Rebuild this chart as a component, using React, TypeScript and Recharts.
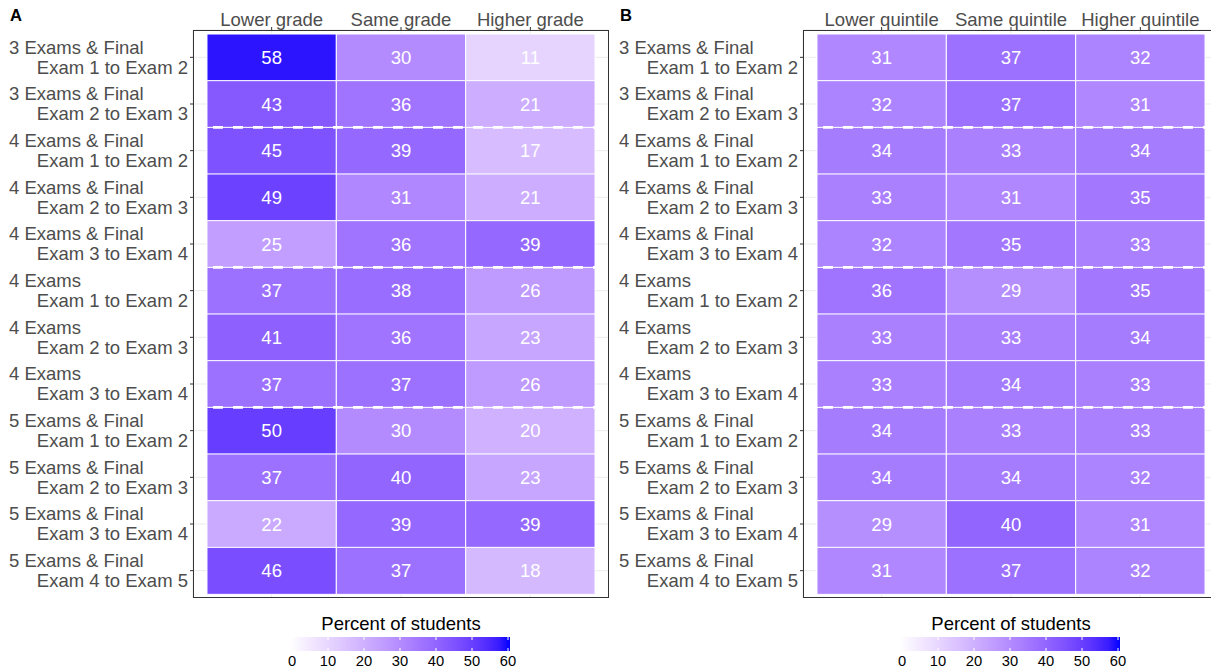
import React from 'react'
import {
  BarChart,
  Bar,
  XAxis,
  YAxis,
  CartesianGrid,
  Cell,
  LabelList,
} from 'recharts'

const rowLabels = [
  ['3 Exams & Final', 'Exam 1 to Exam 2'],
  ['3 Exams & Final', 'Exam 2 to Exam 3'],
  ['4 Exams & Final', 'Exam 1 to Exam 2'],
  ['4 Exams & Final', 'Exam 2 to Exam 3'],
  ['4 Exams & Final', 'Exam 3 to Exam 4'],
  ['4 Exams', 'Exam 1 to Exam 2'],
  ['4 Exams', 'Exam 2 to Exam 3'],
  ['4 Exams', 'Exam 3 to Exam 4'],
  ['5 Exams & Final', 'Exam 1 to Exam 2'],
  ['5 Exams & Final', 'Exam 2 to Exam 3'],
  ['5 Exams & Final', 'Exam 3 to Exam 4'],
  ['5 Exams & Final', 'Exam 4 to Exam 5'],
]

const gradeColumns = ['Lower grade', 'Same grade', 'Higher grade']
const quintileColumns = ['Lower quintile', 'Same quintile', 'Higher quintile']

// panel A: grade change
const lowerGrade = [58, 43, 45, 49, 25, 37, 41, 37, 50, 37, 22, 46]
const sameGrade = [30, 36, 39, 31, 36, 38, 36, 37, 30, 40, 39, 37]
const higherGrade = [11, 21, 17, 21, 39, 26, 23, 26, 20, 23, 39, 18]

// panel B: quintile change
const lowerQuintile = [31, 32, 34, 33, 32, 36, 33, 33, 34, 34, 29, 31]
const sameQuintile = [37, 37, 33, 31, 35, 29, 33, 34, 33, 34, 40, 37]
const higherQuintile = [32, 31, 34, 35, 33, 35, 34, 33, 33, 32, 31, 32]

// dashed separator drawn on top of these rows
const dividerRows = [2, 5, 8]
const legendTicks = [0, 10, 20, 30, 40, 50, 60]
const colorLimits = [0, 60]

const FONT = '"Liberation Sans", Arial, Helvetica, sans-serif'
const AXIS_TEXT = '#4d4d4d'

// white -> blue ramp interpolated in CIELAB (like ggplot's scale_fill_gradient)
const lin = (c: number) => (c <= 0.04045 ? c / 12.92 : Math.pow((c + 0.055) / 1.055, 2.4))
const gam = (c: number) => (c <= 0.0031308 ? 12.92 * c : 1.055 * Math.pow(c, 1 / 2.4) - 0.055)
const WP = [0.95047, 1, 1.08883]

function toLab(rgb: number[]) {
  const [r, g, b] = rgb.map((v) => lin(v / 255))
  const X = 0.4124 * r + 0.3576 * g + 0.1805 * b
  const Y = 0.2126 * r + 0.7152 * g + 0.0722 * b
  const Z = 0.0193 * r + 0.1192 * g + 0.9505 * b
  const f = (t: number) => (t > 0.008856 ? Math.cbrt(t) : 7.787 * t + 16 / 116)
  const fx = f(X / WP[0])
  const fy = f(Y / WP[1])
  const fz = f(Z / WP[2])
  return [116 * fy - 16, 500 * (fx - fy), 200 * (fy - fz)]
}

function fromLab([L, a, bb]: number[]) {
  const fy = (L + 16) / 116
  const fx = fy + a / 500
  const fz = fy - bb / 200
  const inv = (t: number) => (t ** 3 > 0.008856 ? t ** 3 : (t - 16 / 116) / 7.787)
  const X = inv(fx) * WP[0]
  const Y = inv(fy) * WP[1]
  const Z = inv(fz) * WP[2]
  const r = 3.2406 * X - 1.5372 * Y - 0.4986 * Z
  const g = -0.9689 * X + 1.8758 * Y + 0.0415 * Z
  const b = 0.0557 * X - 0.204 * Y + 1.057 * Z
  const to = (c: number) => Math.round(Math.min(1, Math.max(0, gam(Math.min(1, Math.max(0, c))))) * 255)
  return `rgb(${to(r)},${to(g)},${to(b)})`
}

const LOW = toLab([255, 255, 255])
const HIGH = toLab([0, 0, 255])

function fillFor(v: number) {
  const t = (v - colorLimits[0]) / (colorLimits[1] - colorLimits[0])
  return fromLab(LOW.map((l, i) => l + (HIGH[i] - l) * t))
}

const RowTick = (props: any) => {
  const { x, y, payload } = props
  const [first, second] = rowLabels[Number(String(payload.value).slice(1))]
  return (
    <g>
      <text x={x - 179} y={y - 10} dy="0.35em" textAnchor="start" fill={AXIS_TEXT} fontSize={18.5}>
        {first}
      </text>
      <text x={x} y={y + 10} dy="0.35em" textAnchor="end" fill={AXIS_TEXT} fontSize={18.5}>
        {second}
      </text>
    </g>
  )
}

// tile; the last column also draws the dashed group separator across the row
const makeTile = (isLast: boolean, nCols: number) => (p: any) => {
  const { x, y, width, height, fill, index } = p
  return (
    <g>
      <rect x={x} y={y} width={width} height={height} fill={fill} stroke="#fff" strokeWidth={1} />
      {isLast && dividerRows.includes(index) && (
        <line
          x1={x - (nCols - 1) * width + 6}
          x2={x + width}
          y1={y}
          y2={y}
          stroke="#fff"
          strokeWidth={2.7}
          strokeDasharray="10 10"
        />
      )}
    </g>
  )
}

function Panel({ columns, series, left }: { columns: string[]; series: number[][]; left: number }) {
  const data = rowLabels.map((_, i) => ({
    id: `r${i}`,
    c0: 1,
    c1: 1,
    c2: 1,
    v0: series[0][i],
    v1: series[1][i],
    v2: series[2][i],
  }))

  return (
    <div style={{ position: 'absolute', left, top: 0 }}>
      <BarChart
        layout="vertical"
        width={609}
        height={598}
        data={data}
        margin={{ top: 0, right: 0, bottom: 0, left: 0 }}
        barCategoryGap={0}
      >
        <CartesianGrid xAxisId="x" yAxisId="cat" stroke="#ebebeb" />
        <XAxis
          xAxisId="x"
          type="number"
          orientation="top"
          domain={[-0.108, 3.108]}
          allowDataOverflow
          ticks={[0.5, 1.5, 2.5]}
          interval={0}
          tickFormatter={(v: number) => columns[Math.floor(v)]}
          height={30}
          axisLine={false}
          tickSize={3}
          tickMargin={1}
          tickLine={{ stroke: '#333' }}
          tick={{ fill: AXIS_TEXT, fontSize: 18.5 }}
        />
        <YAxis
          yAxisId="cat"
          type="category"
          dataKey="id"
          width={193}
          padding={{ top: 4, bottom: 4 }}
          interval={0}
          axisLine={false}
          tickSize={3}
          tickMargin={2}
          tickLine={{ stroke: '#333' }}
          tick={<RowTick />}
        />
        {[0, 1, 2].map((k) => (
          <Bar
            key={k}
            xAxisId="x"
            yAxisId="cat"
            dataKey={`c${k}`}
            stackId="tiles"
            shape={makeTile(k === 2, 3)}
            isAnimationActive={false}
          >
            {series[k].map((v, i) => (
              <Cell key={`cell-${k}-${i}`} fill={fillFor(v)} />
            ))}
            <LabelList dataKey={`v${k}`} position="center" fill="#fff" fontSize={18.5} />
          </Bar>
        ))}
      </BarChart>
      <div
        style={{
          position: 'absolute',
          left: 193,
          top: 30,
          width: 416,
          height: 568,
          border: '1px solid #333',
          boxSizing: 'border-box',
          pointerEvents: 'none',
        }}
      />
    </div>
  )
}

function ColorLegend({ ox, id }: { ox: number; id: string }) {
  const x0 = ox + 292
  const pxPer = 216 / (colorLimits[1] - colorLimits[0])
  const stops = Array.from({ length: 21 }, (_, i) => i / 20)
  return (
    <g>
      <defs>
        <linearGradient id={id} x1="0" x2="1" y1="0" y2="0">
          {stops.map((s) => (
            <stop key={s} offset={s} stopColor={fillFor(colorLimits[0] + s * (colorLimits[1] - colorLimits[0]))} />
          ))}
        </linearGradient>
      </defs>
      <text x={ox + 401} y={630} textAnchor="middle" fontSize={18.5} fill="#000">
        Percent of students
      </text>
      <rect x={x0 - 2} y={637} width={220} height={14} fill={`url(#${id})`} />
      {legendTicks.map((t) => {
        const px = x0 + (t - colorLimits[0]) * pxPer
        return (
          <g key={t}>
            <line x1={px} x2={px} y1={637} y2={640} stroke="#fff" strokeWidth={1} />
            <line x1={px} x2={px} y1={648} y2={651} stroke="#fff" strokeWidth={1} />
            <text x={px} y={666} textAnchor="middle" fontSize={14.7} fill="#000">
              {t}
            </text>
          </g>
        )
      })}
    </g>
  )
}

export default function App() {
  return (
    <div
      style={{
        position: 'absolute',
        left: 0,
        top: 0,
        width: 1211,
        height: 669,
        overflow: 'hidden',
        background: '#fff',
        fontFamily: FONT,
      }}
    >
      <Panel columns={gradeColumns} series={[lowerGrade, sameGrade, higherGrade]} left={0} />
      <Panel columns={quintileColumns} series={[lowerQuintile, sameQuintile, higherQuintile]} left={610} />
      <svg
        width={1211}
        height={669}
        style={{ position: 'absolute', left: 0, top: 0, pointerEvents: 'none' }}
        fontFamily={FONT}
      >
        <text x={10} y={21} fontSize={16.6} fontWeight="bold" fill="#000">
          A
        </text>
        <text x={620} y={21} fontSize={16.6} fontWeight="bold" fill="#000">
          B
        </text>
        <ColorLegend ox={0} id="gradA" />
        <ColorLegend ox={610} id="gradB" />
      </svg>
    </div>
  )
}
